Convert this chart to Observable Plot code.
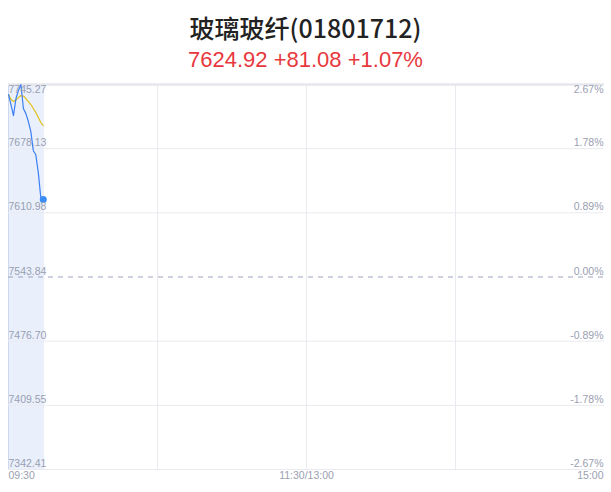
<!DOCTYPE html>
<html>
<head>
<meta charset="utf-8">
<script src="https://cdn.jsdelivr.net/npm/d3@7"></script>
<script src="https://cdn.jsdelivr.net/npm/@observablehq/plot@0.6"></script>
<style>
  html, body { margin: 0; padding: 0; background: #fff; width: 611px; height: 492px; overflow: hidden; }
  #header { height: 80px; position: relative; }
  #title { position: absolute; top: 10px; left: 0; width: 611px; text-align: center;
    font-family: "Noto Sans CJK SC", "Noto Sans", sans-serif; font-size: 25px; font-weight: 500; color: #222; line-height: 34px; }
  #sub { position: absolute; top: 45px; left: 0; width: 611px; text-align: center;
    font-family: "Liberation Sans", Arial, sans-serif; font-size: 22px; color: #e8383d; line-height: 30px; }
  #chart svg { display: block; }
</style>
</head>
<body>
<div id="header">
  <div id="title">玻璃玻纤(01801712)</div>
  <div id="sub">7624.92 +81.08 +1.07%</div>
</div>
<div id="chart"></div>
<script>
// minutes since 09:30
const minutes = [0, 1, 2, 3, 4, 5, 6, 7, 8, 9, 10, 11, 12, 13, 14];
const price = [7734.8, 7724.3, 7712.7, 7730.6, 7739.0, 7745.27, 7720.1, 7714.8, 7706.5, 7696.0, 7676.0, 7671.8, 7653.0, 7627.0, 7624.92];
const avgPrice = [7734.8, 7729.5, 7727.4, 7729.0, 7731.6, 7733.7, 7733.2, 7730.6, 7727.4, 7724.3, 7720.1, 7715.9, 7710.7, 7705.4, 7702.3];
const prevClose = 7543.84;
const yTicks = [7342.41, 7409.55, 7476.70, 7543.84, 7610.98, 7678.13, 7745.27];
const yTickLabels = ["7342.41", "7409.55", "7476.70", "7543.84", "7610.98", "7678.13", "7745.27"];
const pctLabels = ["-2.67%", "-1.78%", "-0.89%", "0.00%", "0.89%", "1.78%", "2.67%"];
const xGrid = [60, 120, 180];
const xTicks = [0, 120, 240];
const xTickLabels = ["09:30", "11:30/13:00", "15:00"];

const series = minutes.map((m, i) => ({m, price: price[i], avg: avgPrice[i]}));
const yT = yTicks.map((v, i) => ({v, label: yTickLabels[i], pct: pctLabels[i]}));
const last = series[series.length - 1];
const yMin = yTicks[0], yMax = yTicks[yTicks.length - 1];
const yLow = yT.filter(d => d.v !== yMax);
const yTop = yT.filter(d => d.v === yMax);
const labelColor = "#9a9eb0";
const font = "Liberation Sans, Arial, sans-serif";
const fs = 10.5;

const chart = Plot.plot({
  width: 611,
  height: 412,
  marginTop: 4,
  marginBottom: 23,
  marginLeft: 8,
  marginRight: 7,
  style: {fontFamily: font, background: "#fff", overflow: "visible"},
  x: {domain: [0, 240], axis: null},
  y: {domain: [yMin, yMax], axis: null},
  marks: [
    // elapsed-time shading
    Plot.rect([{x1: 0, x2: last.m + 0.5}], {x1: "x1", x2: "x2", y1: yMin, y2: yMax, fill: "#e9f0fc"}),
    Plot.ruleX([0], {y1: yMin, y2: yMax, stroke: "#cdd8ee", strokeWidth: 1}),
    // grid
    Plot.ruleY(yT.filter(d => d.v !== prevClose && d.v !== yMax), {y: "v", stroke: "#e9eaef", strokeWidth: 1}),
    Plot.ruleY([yMax], {stroke: "#e6e7ec", strokeWidth: 2.5}),
    Plot.ruleX(xGrid, {y1: yMin, y2: yMax, stroke: "#e9eaef", strokeWidth: 1}),
    Plot.ruleY([prevClose], {stroke: "#9ba1bb", strokeWidth: 1, strokeDasharray: "5,5"}),
    // lines
    Plot.line(series, {x: "m", y: "avg", stroke: "#e2c21c", strokeWidth: 1.2}),
    Plot.line(series, {x: "m", y: "price", stroke: "#3b7ff2", strokeWidth: 1.2}),
    Plot.dot([last], {x: "m", y: "price", r: 3.5, fill: "#3b8cf5", stroke: "none"}),
    // y labels
    Plot.text(yLow, {x: 0, y: "v", text: "label", textAnchor: "start", lineAnchor: "bottom", dy: -2.5, fill: labelColor, fontSize: fs}),
    Plot.text(yLow, {x: 240, y: "v", text: "pct", textAnchor: "end", lineAnchor: "bottom", dx: -1, dy: -2.5, fill: labelColor, fontSize: fs}),
    Plot.text(yTop, {x: 0, y: "v", text: "label", textAnchor: "start", lineAnchor: "top", dy: 1, fill: labelColor, fontSize: fs}),
    Plot.text(yTop, {x: 240, y: "v", text: "pct", textAnchor: "end", lineAnchor: "top", dx: -1, dy: 1, fill: labelColor, fontSize: fs}),
    // x labels
    Plot.text([xTicks[0]], {x: d => d, y: yMin, text: [xTickLabels[0]], textAnchor: "start", lineAnchor: "top", dy: 2, fill: labelColor, fontSize: fs}),
    Plot.text([xTicks[1]], {x: d => d, y: yMin, text: [xTickLabels[1]], textAnchor: "middle", lineAnchor: "top", dy: 2, fill: labelColor, fontSize: fs}),
    Plot.text([xTicks[2]], {x: d => d, y: yMin, text: [xTickLabels[2]], textAnchor: "end", lineAnchor: "top", dx: -1, dy: 2, fill: labelColor, fontSize: fs})
  ]
});
document.getElementById("chart").appendChild(chart);
</script>
</body>
</html>
